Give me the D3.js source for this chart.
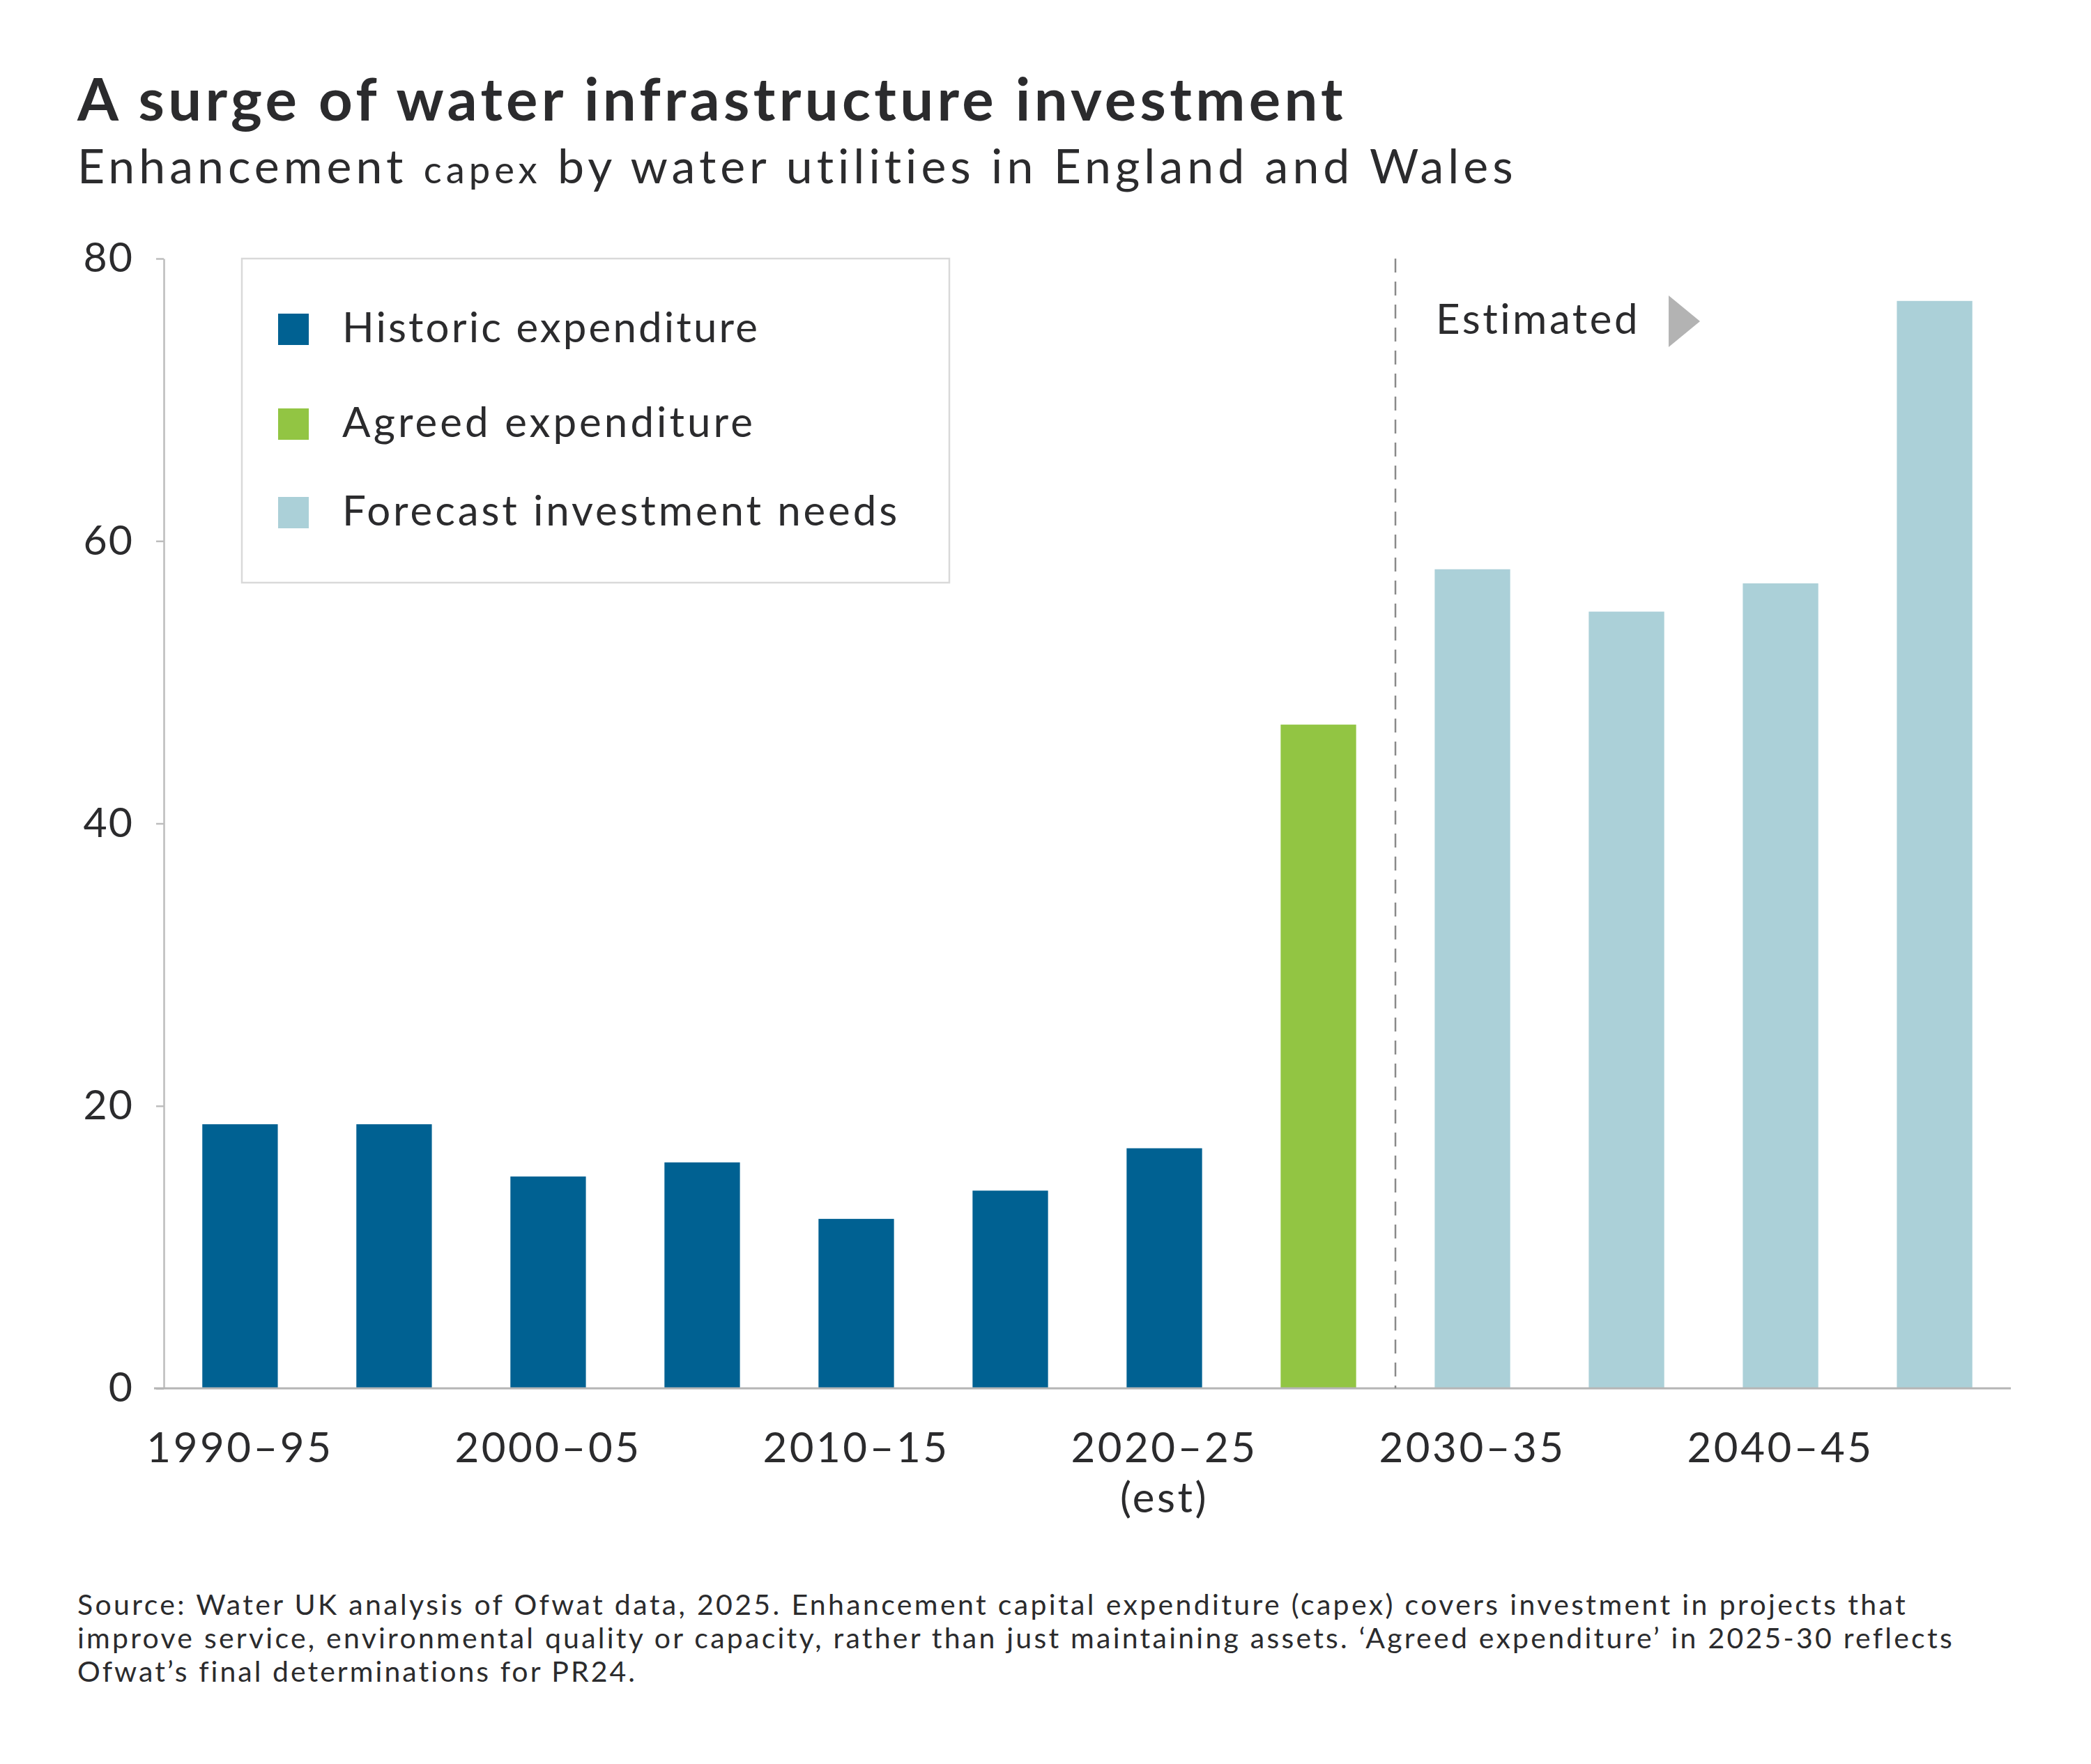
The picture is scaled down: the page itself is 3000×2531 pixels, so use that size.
<!DOCTYPE html>
<html>
<head>
<meta charset="utf-8">
<script src="https://cdn.jsdelivr.net/npm/d3@7"></script>
<style>
  body { margin: 0; background: #fff; }
  text { font-family: Lato, "Open Sans", sans-serif; fill: #2b2b2d; }
</style>
</head>
<body>
<div id="chart"></div>
<script>
// enhancement capex by five-year period (£bn)
var periods = ["1990–95", "1995–00", "2000–05", "2005–10", "2010–15", "2015–20",
               "2020–25 (est)", "2025–30", "2030–35", "2035–40", "2040–45", "2045–50"];
var capex = [18.7, 18.7, 15, 16, 12, 14, 17, 47, 58, 55, 57, 77];
var kinds = ["historic", "historic", "historic", "historic", "historic", "historic",
             "historic", "agreed", "forecast", "forecast", "forecast", "forecast"];

var tickPeriods = ["1990–95", "2000–05", "2010–15", "2020–25 (est)", "2030–35", "2040–45"];
var tickLabels = [["1990–95"], ["2000–05"], ["2010–15"], ["2020–25", "(est)"], ["2030–35"], ["2040–45"]];
var yTicks = [0, 20, 40, 60, 80];

var legendKeys = ["historic", "agreed", "forecast"];
var legendNames = ["Historic expenditure", "Agreed expenditure", "Forecast investment needs"];
var kindColors = ["#006192", "#92c543", "#abd0d8"];

var sourceLines = [
	"Source: Water UK analysis of Ofwat data, 2025. Enhancement capital expenditure (capex) covers investment in projects that",
	"improve service, environmental quality or capacity, rather than just maintaining assets. \u2018Agreed expenditure\u2019 in 2025-30 reflects",
	"Ofwat\u2019s final determinations for PR24."
];

var W = 3000, H = 2531;
var plotLeft = 235, plotRight = 2885, plotTop = 371, plotBottom = 1992;

var svg = d3.select("#chart").append("svg")
	.attr("width", W)
	.attr("height", H);

svg.append("rect").attr("width", W).attr("height", H).attr("fill", "#fff");

// widen a line of text to a given width with letter spacing (the original face is wider than Lato)
function fitSpacing(sel, w) {
	var len = sel.node().getComputedTextLength();
	var n = sel.text().length;
	var ls = (w - len) / n;
	sel.attr("letter-spacing", ls);
	return ls;
}

var color = d3.scaleOrdinal().domain(legendKeys).range(kindColors);

var x = d3.scaleBand()
	.domain(periods)
	.range([plotLeft, plotRight])
	.paddingInner(0.51)
	.paddingOuter(0.25);

var y = d3.scaleLinear()
	.domain([0, 80])
	.range([plotBottom, plotTop]);

// titles
var title = svg.append("text")
	.attr("x", 111).attr("y", 173)
	.attr("font-size", 85)
	.attr("font-weight", 700)
	.text("A surge of water infrastructure investment");
fitSpacing(title, 1821);

var sub = svg.append("text")
	.attr("x", 111).attr("y", 263)
	.attr("font-size", 68);
sub.append("tspan").text("Enhancement ");
sub.append("tspan").style("font-size", "0.8em").text("capex");
sub.append("tspan").text(" by water utilities in England and Wales");
fitSpacing(sub, 2068);

// y axis
var yAxis = svg.append("g")
	.attr("transform", "translate(" + plotLeft + ",0)")
	.call(d3.axisLeft(y).tickValues(yTicks).tickSize(11).tickSizeOuter(0).tickPadding(32));
yAxis.select(".domain").attr("stroke", "#bdbdbd").attr("stroke-width", 2.5);
yAxis.selectAll(".tick line").attr("stroke", "#bdbdbd").attr("stroke-width", 2.5);
yAxis.selectAll(".tick text")
	.attr("font-family", "Lato, sans-serif")
	.attr("font-size", 59)
	.attr("letter-spacing", 2)
	.attr("fill", "#2b2b2d");

// legend
var legend = svg.append("g").attr("transform", "translate(" + (plotLeft + 112) + "," + plotTop + ")");
legend.append("rect")
	.attr("width", 1015).attr("height", 465)
	.attr("fill", "#fff")
	.attr("stroke", "#d9d9d9")
	.attr("stroke-width", 2.5);

var legendWidths = [599, 593, 800];
var rows = legend.selectAll(".row")
	.data(legendKeys)
	.enter().append("g")
	.attr("transform", function(d, i) { return "translate(52," + [101, 237, 364][i] + ")"; });
rows.append("rect")
	.attr("y", -22).attr("width", 44).attr("height", 45)
	.attr("fill", function(d) { return color(d); });
rows.append("text")
	.attr("x", 92).attr("y", 19)
	.attr("font-size", 60)
	.text(function(d, i) { return legendNames[i]; })
	.each(function(d, i) { fitSpacing(d3.select(this), legendWidths[i]); });

// bars
svg.append("g").selectAll("rect")
	.data(periods)
	.enter().append("rect")
	.attr("x", function(d) { return x(d); })
	.attr("y", function(d, i) { return y(capex[i]); })
	.attr("width", x.bandwidth())
	.attr("height", function(d, i) { return y(0) - y(capex[i]); })
	.attr("fill", function(d, i) { return color(kinds[i]); });

// x axis baseline
svg.append("line")
	.attr("x1", plotLeft - 14).attr("x2", plotRight)
	.attr("y1", y(0)).attr("y2", y(0))
	.attr("stroke", "#b5b5b5")
	.attr("stroke-width", 3);

// x tick labels
var xAxis = svg.append("g")
	.attr("transform", "translate(0," + y(0) + ")")
	.call(d3.axisBottom(x).tickValues(tickPeriods).tickSize(0).tickPadding(0).tickFormat(""));
xAxis.select(".domain").remove();
xAxis.selectAll(".tick text").remove();
xAxis.selectAll(".tick").each(function(d, i) {
	var t = d3.select(this).append("text")
		.attr("text-anchor", "middle")
		.attr("font-size", 60)
		.attr("letter-spacing", 3.5)
		.attr("fill", "#2b2b2d");
	tickLabels[i].forEach(function(s, j) {
		t.append("tspan").attr("x", 0).attr("y", 106 + j * 72).text(s);
	});
});

// estimated divider between agreed and forecast periods
var split = (x(periods[7]) + x.bandwidth() + x(periods[8])) / 2;
svg.append("line")
	.attr("x1", split).attr("x2", split)
	.attr("y1", y(80)).attr("y2", y(0))
	.attr("stroke", "#8a8a8a")
	.attr("stroke-width", 2.5)
	.attr("stroke-dasharray", "20,13");

var est = svg.append("text")
	.attr("x", split + 58).attr("y", 479)
	.attr("font-size", 60)
	.text("Estimated");
fitSpacing(est, 294);
svg.append("path")
	.attr("d", "M" + (split + 392) + ",424 L" + (split + 437) + ",461 L" + (split + 392) + ",498 Z")
	.attr("fill", "#b3b3b3");

// source note
var src = svg.append("g");
var srcWidths = [2626, 2693, 803];
sourceLines.forEach(function(s, i) {
	var t = src.append("text")
		.attr("x", 111).attr("y", 2317 + i * 48)
		.attr("font-size", 41)
		.attr("fill", "#333")
		.text(s);
	fitSpacing(t, srcWidths[i]);
});
</script>
</body>
</html>
